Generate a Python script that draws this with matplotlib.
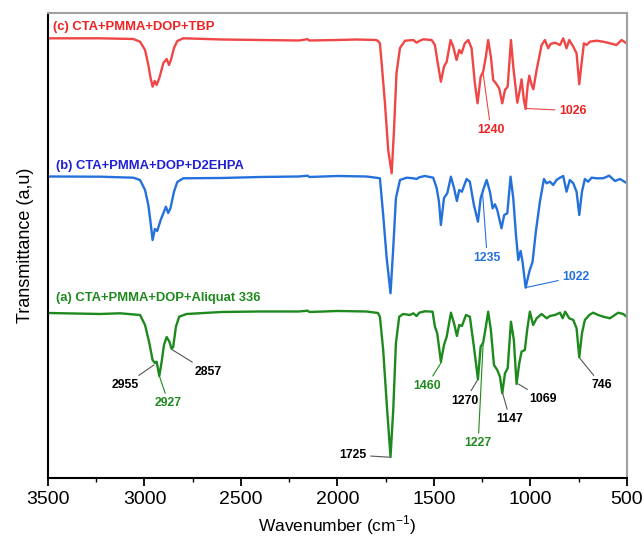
import numpy as np
import matplotlib
matplotlib.use('Agg')
import matplotlib.pyplot as plt

plt.rcParams['font.family'] = ['Liberation Sans', 'DejaVu Sans']
plt.rcParams['mathtext.fontset'] = 'custom'
plt.rcParams['mathtext.rm'] = 'Liberation Sans'

# Spectra: wavenumber (cm-1) and transmittance (a.u., offset per curve)
# (c) CTA+PMMA+DOP+TBP
wn_c = [3500, 3231, 3058, 3023, 2997, 2980, 2968, 2958, 2947, 2937, 2923, 2902, 2885, 2873,
        2863, 2847, 2830, 2799, 2600, 2400, 2200, 2155, 2145, 2000, 1900, 1800, 1790, 1780,
        1771, 1754, 1737, 1719, 1707, 1694, 1676, 1650, 1607, 1590, 1576, 1555, 1512, 1495,
        1483, 1464, 1448, 1434, 1414, 1400, 1383, 1369, 1357, 1340, 1322, 1305, 1288, 1274,
        1258, 1245, 1231, 1219, 1205, 1193, 1179, 1162, 1146, 1132, 1118, 1101, 1089, 1068,
        1055, 1046, 1034, 1025, 1015, 1006, 994, 985, 968, 942, 925, 908, 896, 873, 847, 830,
        813, 799, 778, 761, 747, 735, 723, 709, 692, 657, 623, 588, 554, 528, 502, 500]
tr_c = [439.7, 439.7, 439, 436.3, 428, 413, 399.7, 391.3, 397, 393, 400, 415, 419, 413,
        418, 430, 437, 439.7, 438.5, 438, 437.5, 438.8, 437.5, 438, 438.5, 438, 437, 434.7,
        415, 375, 328, 304.7, 348, 405, 430, 437.3, 438, 435.3, 437, 438.7, 438, 433,
        418, 396.3, 411.3, 416.3, 438, 431.3, 418, 428, 424.7, 434.7, 438, 429.7, 394.7, 374.7,
        401.3, 406.3, 421.3, 438, 421.3, 398, 394.7, 389.7, 374.7, 388, 391.3, 438, 411.3, 375.3,
        388, 398.7, 378, 369, 391.3, 402.3, 393, 388.7, 408, 433, 438, 429.7, 434, 435.3, 433, 439.7,
        429.7, 438, 431.3, 424.7, 393.7, 414.7, 434.7, 433, 436.3, 437.3, 436.3, 434.7, 433, 438, 434.7, 434]

# (b) CTA+PMMA+DOP+D2EHPA
wn_b = [3500, 3231, 3058, 3023, 2997, 2980, 2968, 2958, 2946, 2934, 2916, 2899, 2889, 2877,
        2865, 2847, 2830, 2799, 2600, 2400, 2200, 2155, 2145, 2000, 1850, 1790, 1780, 1763,
        1745, 1725, 1711, 1697, 1676, 1642, 1607, 1590, 1576, 1547, 1504, 1486, 1474, 1464,
        1448, 1431, 1412, 1396, 1381, 1369, 1355, 1331, 1314, 1293, 1272, 1258, 1245, 1227,
        1210, 1196, 1184, 1172, 1150, 1136, 1120, 1103, 1089, 1075, 1063, 1051, 1041, 1025,
        1006, 989, 972, 951, 930, 916, 899, 882, 865, 847, 830, 813, 796, 778, 761, 747, 733,
        718, 701, 683, 657, 623, 592, 562, 536, 502]
tr_b = [301.5, 301.3, 300.3, 298, 288, 273, 255, 238, 249, 247, 258, 266.3, 271.3, 265,
        270, 286.3, 296, 299.7, 300, 301, 301.5, 302.3, 301, 302, 301.5, 300, 299.7, 263,
        220, 184.7, 230, 280, 298, 300.3, 299.7, 299, 300.7, 302, 300.3, 290, 276.3, 253,
        280, 284.7, 301.3, 290, 277, 288, 286.3, 299, 296.3, 273, 256.3, 279.7, 288, 298,
        286.3, 269.7, 273.7, 268, 249.7, 263, 264.7, 301.3, 279.7, 243, 218, 227, 216.3, 190.3,
        206.3, 216.3, 246.3, 276.3, 299, 294.7, 296.3, 293, 298, 300.3, 302, 286.3, 298, 294.7, 286.3, 263, 286.3,
        299, 296.3, 300.3, 299.7, 299.7, 302.3, 297, 299, 295]

# (a) CTA+PMMA+DOP+Aliquat 336
wn_a = [3500, 3231, 3127, 3023, 2997, 2975, 2958, 2946, 2937, 2923, 2911, 2899, 2885, 2871,
        2859, 2851, 2837, 2820, 2782, 2600, 2400, 2200, 2155, 2145, 2000, 1850, 1790, 1780,
        1763, 1745, 1725, 1711, 1697, 1680, 1659, 1624, 1607, 1590, 1576, 1547, 1507, 1495,
        1483, 1464, 1448, 1434, 1412, 1396, 1381, 1369, 1355, 1334, 1314, 1293, 1272, 1258,
        1245, 1231, 1219, 1205, 1189, 1172, 1158, 1146, 1132, 1118, 1101, 1086, 1072, 1058,
        1046, 1029, 1017, 1003, 986, 968, 942, 916, 899, 873, 847, 833, 820, 799, 778, 761,
        747, 733, 718, 695, 675, 649, 623, 588, 545, 519, 502]
tr_a = [165, 164, 164.7, 163, 153, 135, 118, 115, 116.3, 102, 116.3, 133, 141, 136.3,
        129, 131.3, 151.3, 161.3, 164, 166, 166.5, 166.5, 167.3, 166, 167, 166.5, 165, 161.3,
        128, 75, 21.3, 68, 135, 161.3, 164, 163, 164.7, 162, 165.3, 166.7, 166.3, 151.3,
        144.7, 116.3, 133, 141.3, 165.3, 154.7, 142, 153, 152, 163, 161.3, 131.3, 98.7, 131.3,
        135.3, 151.3, 166.3, 148, 113, 108, 101.3, 84.7, 104.7, 109.7, 156.3, 138, 94, 114.7,
        126.3, 128, 148, 166.3, 153, 159.7, 164, 159.7, 162, 163, 165.3, 159.7, 166.3, 159.7, 158, 149.7,
        120.7, 144.7, 158, 163, 165.3, 163, 161.3, 159.7, 165.3, 164, 161.3]

series_names = ['(c) CTA+PMMA+DOP+TBP', '(b) CTA+PMMA+DOP+D2EHPA', '(a) CTA+PMMA+DOP+Aliquat 336']

# peak labels: text, peak position, label position
peaks_c = [('1240', (1245, 404.7), (1205, 348)), ('1026', (1022, 369.5), (780, 367.3))]
peaks_b = [('1235', (1248, 284.7), (1224, 220.3)), ('1022', (1022, 190.5), (764, 201.3))]
peaks_a_black = [('2955', (2951, 113), (3101, 93)), ('2857', (2854, 128), (2672, 106.3)),
                 ('1725', (1723, 20.7), (1920, 23)), ('1270', (1274, 98), (1339, 77.3)),
                 ('1147', (1144, 84.7), (1106, 58.7)), ('1069', (1063, 94), (934, 79)),
                 ('746', (744, 119.7), (631, 92.7))]
peaks_a_green = [('2927', (2923, 102), (2875, 74.7)), ('1460', (1460, 116.3), (1538, 92)),
                 ('1227', (1245, 134.7), (1271, 34.7))]

red = '#f04646'
blue = '#2571dc'
green = '#1e8a1e'

fig = plt.figure(figsize=(6.44, 5.37), dpi=100)
ax = fig.add_axes([0.0745, 0.1099, 0.899, 0.8659])

ax.plot(wn_c, tr_c, color=red, lw=1.7)
ax.plot(wn_b, tr_b, color=blue, lw=1.7)
ax.plot(wn_a, tr_a, color=green, lw=1.7)

ax.text(3474, 451, series_names[0], color='#ee2222', fontsize=9.4, fontweight='bold', va='center')
ax.text(3461, 312, series_names[1], color='#1f1fd6', fontsize=9.4, fontweight='bold', va='center')
ax.text(3461, 180, series_names[2], color='#1e8a1e', fontsize=9.4, fontweight='bold', va='center')


def label_peaks(peaks, tcolor, lcolor):
    for txt, xy, xyt in peaks:
        ax.annotate(txt, xy=xy, xytext=xyt, color=tcolor, fontsize=8.8, fontweight='bold',
                    ha='center', va='center',
                    arrowprops=dict(arrowstyle='-', color=lcolor, lw=0.8, shrinkA=1, shrinkB=0))


label_peaks(peaks_c, '#ee2222', red)
label_peaks(peaks_b, blue, blue)
label_peaks(peaks_a_black, 'black', '#555555')
label_peaks(peaks_a_green, green, green)

ax.set_xlim(3500, 500)
ax.set_ylim(0, 465)
ax.set_xticks(np.arange(3500, 499, -500))
ax.set_xticks(np.arange(3250, 500, -500), minor=True)
ax.set_yticks([])
ax.tick_params(axis='x', which='major', direction='out', length=5.5, width=1.3, labelsize=14, pad=4)
ax.tick_params(axis='x', which='minor', direction='out', length=3, width=1.0)

for s in ['left', 'bottom']:
    ax.spines[s].set_color('black')
    ax.spines[s].set_linewidth(1.5)
for s in ['top', 'right']:
    ax.spines[s].set_color('#a0a0a0')
    ax.spines[s].set_linewidth(1.5)

ax.set_xlabel('Wavenumber (cm$^{\\mathregular{-1}}$)', fontsize=12.5, labelpad=4)
ax.set_ylabel('Transmittance (a,u)', fontsize=13, labelpad=10)

fig.savefig('out.png', dpi=100)
